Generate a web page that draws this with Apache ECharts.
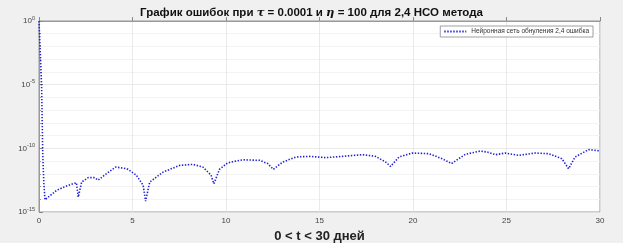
<!DOCTYPE html>
<html><head><meta charset="utf-8">
<script src="https://cdn.jsdelivr.net/npm/echarts@6/dist/echarts.min.js"></script>
<style>html,body{margin:0;padding:0;background:#f0f0f0}#c{width:623px;height:243px}</style>
</head><body><div id="c"></div>
<script>
// time (days)
const tValues = [0, 0.05, 0.1, 0.14, 0.2, 0.26, 0.32, 0.6, 0.94, 1.4, 1.83, 2.0, 2.1, 2.28, 2.63, 2.98, 3.16, 3.6, 4.1, 4.7, 5.2, 5.57, 5.7, 5.92, 6.63, 7.52, 8.23, 8.76, 9.2, 9.35, 9.65, 10.08, 10.36, 10.9, 11.8, 12.23, 12.53, 13.03, 13.74, 14.45, 15.34, 16.2, 17.3, 18.0, 18.54, 18.8, 19.25, 19.96, 20.85, 21.56, 22.06, 22.8, 23.6, 24.0, 24.41, 24.94, 25.65, 26.54, 27.25, 27.96, 28.32, 28.67, 29.39, 30];
// log10 of error
const logError = [0, -1.8, -3.6, -5.17, -10.4, -12.8, -14.04, -13.7, -13.3, -13.0, -12.78, -12.7, -13.83, -12.65, -12.3, -12.3, -12.5, -12.0, -11.47, -11.6, -12.1, -12.9, -14.15, -12.65, -11.87, -11.34, -11.26, -11.47, -12.1, -12.78, -11.65, -11.15, -11.05, -10.9, -10.94, -11.2, -11.65, -11.08, -10.68, -10.63, -10.73, -10.63, -10.5, -10.63, -11.08, -11.42, -10.68, -10.37, -10.42, -10.81, -11.2, -10.47, -10.21, -10.3, -10.5, -10.37, -10.55, -10.37, -10.42, -10.81, -11.6, -10.68, -10.1, -10.2];
const xTicks = [0, 5, 10, 15, 20, 25, 30];
const yTickExponents = [0, -5, -10, -15];
const seriesName = 'Нейронная сеть обнуления 2,4 ошибка';

const data = tValues.map((t, i) => [t, logError[i]]);
const chart = echarts.init(document.getElementById('c'));
chart.setOption({
  backgroundColor: '#f0f0f0',
  animation: false,
  title: {
    text: '{a|График ошибок при }{i|τ}{a| = 0.0001 и }{i|η}{a| = 100 для 2,4 НСО метода}',
    left: 'center', top: 2,
    textStyle: {
      rich: {
        a: {fontFamily: 'Liberation Sans', fontWeight: 'bold', fontSize: 11.5, color: '#111'},
        i: {fontFamily: 'DejaVu Serif', fontStyle: 'italic', fontSize: 11.5, color: '#111'}
      }
    }
  },
  legend: {
    data: [seriesName], right: 30, top: 26, orient: 'horizontal',
    backgroundColor: '#fff', borderColor: '#888', borderWidth: 0.8, borderRadius: 0,
    padding: [2, 4, 2, 3], itemWidth: 22, itemHeight: 6, itemGap: 3,
    itemStyle: {opacity: 0},
    textStyle: {fontSize: 6.5, color: '#333', fontFamily: 'Liberation Sans'}
  },
  grid: {left: 39, right: 23, top: 21, bottom: 31, outerBoundsMode: 'none', containLabel: false, show: true, backgroundColor: '#fff', borderColor: '#999', borderWidth: 1},
  xAxis: {
    type: 'value', min: 0, max: 30, interval: 5,
    name: '0 < t < 30 дней', nameLocation: 'middle', nameGap: 18,
    nameTextStyle: {fontSize: 13, fontWeight: 'bold', color: '#222', fontFamily: 'Liberation Sans'},
    axisLine: {show: true, lineStyle: {color: '#999'}},
    axisTick: {inside: true, length: 4, lineStyle: {color: '#888'}},
    axisLabel: {fontSize: 8, color: '#444', margin: 5, formatter: v => xTicks.includes(v) ? String(v) : ''},
    splitLine: {show: true, lineStyle: {color: '#e4e4e4', width: 0.8}}
  },
  yAxis: {
    type: 'value', min: -15, max: 0, interval: 5,
    axisLine: {show: true, lineStyle: {color: '#999'}},
    axisTick: {inside: true, length: 4, lineStyle: {color: '#888'}},
    minorTick: {show: true, splitNumber: 5, length: 2, lineStyle: {color: '#999'}},
    minorSplitLine: {show: true, lineStyle: {color: '#f0f0f0', width: 0.8}},
    splitLine: {show: true, lineStyle: {color: '#e4e4e4', width: 0.8}},
    axisLabel: {
      margin: 4, color: '#444',
      formatter: v => yTickExponents.includes(v) ? '{b|10}{s|' + v + '}' : '',
      rich: {
        b: {fontSize: 8, color: '#444', fontFamily: 'Liberation Sans'},
        s: {fontSize: 5.5, color: '#444', fontFamily: 'Liberation Sans', padding: [0, 0, 6, 0]}
      }
    }
  },
  series: [{
    name: seriesName, type: 'line', data: data, showSymbol: false, symbol: 'none',
    lineStyle: {color: '#2020d8', width: 1.6, type: [1.4, 1.6]},
    itemStyle: {color: '#2020d8'}
  }]
});
</script></body></html>
